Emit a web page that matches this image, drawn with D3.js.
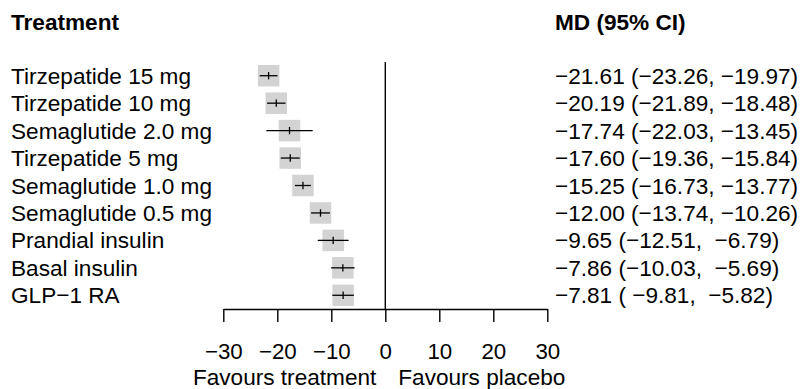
<!DOCTYPE html>
<html>
<head>
<meta charset="utf-8">
<script src="https://cdn.jsdelivr.net/npm/d3@7/dist/d3.min.js"></script>
<style>
  html, body { margin: 0; padding: 0; background: #fff; }
  svg { display: block; }
  text { font-family: "Liberation Sans", Arial, Helvetica, sans-serif; fill: #000; }
</style>
</head>
<body>
<svg id="chart" width="806" height="389"></svg>
<script>
const treatments = ["Tirzepatide 15 mg", "Tirzepatide 10 mg", "Semaglutide 2.0 mg", "Tirzepatide 5 mg",
  "Semaglutide 1.0 mg", "Semaglutide 0.5 mg", "Prandial insulin", "Basal insulin", "GLP\u22121 RA"];
const md    = [-21.61, -20.19, -17.74, -17.60, -15.25, -12.00, -9.65, -7.86, -7.81];
const lower = [-23.26, -21.89, -22.03, -19.36, -16.73, -13.74, -12.51, -10.03, -9.81];
const upper = [-19.97, -18.48, -13.45, -15.84, -13.77, -10.26, -6.79, -5.69, -5.82];
const tickValues = [-30, -20, -10, 0, 10, 20, 30];
const headerLeft = "Treatment";
const headerRight = "MD (95% CI)";
const favourLeft = "Favours treatment";
const favourRight = "Favours placebo";

const svg = d3.select("#chart");
const fs = 22.6;

const x = d3.scaleLinear().domain([-30, 30]).range([223.3, 547.3]);
const y = d3.scaleLinear().domain([-0.5, treatments.length - 0.5]).range([62, 309]);
const axisY = y(treatments.length - 0.5);

const fmt = d3.format(".2f");
const pad = (s, w) => " ".repeat(Math.max(0, w - s.length)) + s;
const ciText = md.map((m, i) => fmt(m) + " (" + pad(fmt(lower[i]), 6) + ", " + pad(fmt(upper[i]), 6) + ")");

// headers
svg.append("text").attr("x", 11).attr("y", 30).attr("font-size", fs).attr("font-weight", "bold").text(headerLeft);
svg.append("text").attr("x", 555).attr("y", 30).attr("font-size", fs).attr("font-weight", "bold").text(headerRight);

// row labels
svg.append("g").selectAll("text").data(treatments).join("text")
  .attr("x", 11).attr("y", (d, i) => y(i) + 8).attr("font-size", fs).text(d => d);

// CI text
svg.append("g").selectAll("text").data(ciText).join("text")
  .attr("x", 555).attr("y", (d, i) => y(i) + 8).attr("font-size", fs)
  .style("white-space", "pre").attr("xml:space", "preserve").text(d => d);

// boxes
const bs = 21.5;
svg.append("g").selectAll("rect").data(md).join("rect")
  .attr("x", d => x(d) - bs / 2).attr("y", (d, i) => y(i) - bs / 2)
  .attr("width", bs).attr("height", bs).attr("fill", "#d3d3d3");

// CI lines
svg.append("g").selectAll("line").data(md).join("line")
  .attr("x1", (d, i) => x(lower[i])).attr("x2", (d, i) => x(upper[i]))
  .attr("y1", (d, i) => y(i)).attr("y2", (d, i) => y(i))
  .attr("stroke", "#000").attr("stroke-width", 1.3);

// point markers
svg.append("g").selectAll("line").data(md).join("line")
  .attr("x1", d => x(d)).attr("x2", d => x(d))
  .attr("y1", (d, i) => y(i) - 3.7).attr("y2", (d, i) => y(i) + 3.7)
  .attr("stroke", "#000").attr("stroke-width", 1.3);

// zero line
svg.append("line").attr("x1", x(0)).attr("x2", x(0)).attr("y1", y(-0.5)).attr("y2", axisY)
  .attr("stroke", "#000").attr("stroke-width", 1.4);

// axis
const axis = d3.axisBottom(x).tickValues(tickValues).tickSize(13).tickSizeOuter(0).tickPadding(24)
  .tickFormat(d3.format("d"));
const ag = svg.append("g").attr("transform", `translate(0,${axisY})`).call(axis);
ag.select(".domain").attr("stroke", "#000").attr("stroke-width", 1.4);
ag.selectAll(".tick line").attr("stroke", "#000").attr("stroke-width", 1.4);
ag.selectAll(".tick text").attr("font-size", 22.3).attr("font-family", "Liberation Sans, Arial, sans-serif")
  .attr("fill", "#000").attr("dy", null).attr("y", 50);

// favours labels
svg.append("text").attr("x", x(0) - 9).attr("y", 384.5).attr("font-size", fs).attr("text-anchor", "end").text(favourLeft);
svg.append("text").attr("x", x(0) + 13).attr("y", 384.5).attr("font-size", fs).attr("text-anchor", "start").text(favourRight);
</script>
</body>
</html>
